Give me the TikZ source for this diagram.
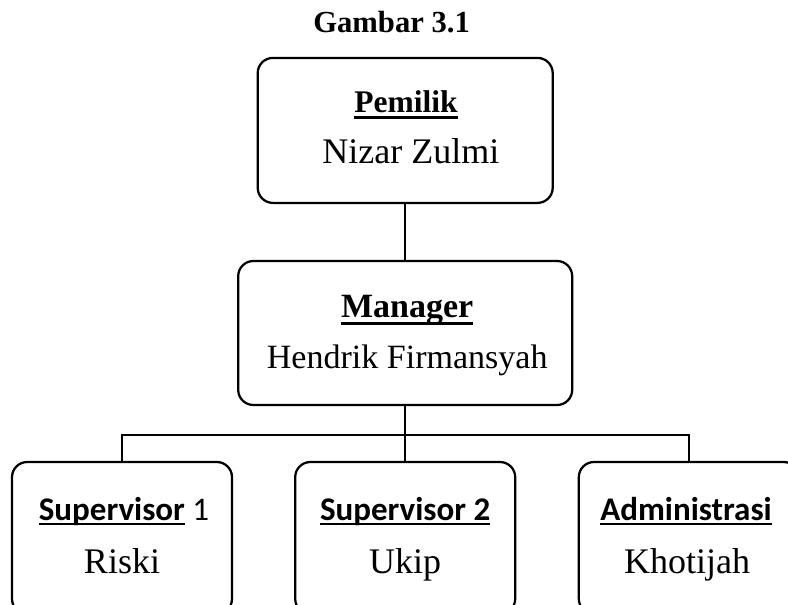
\documentclass[tikz,border=0pt]{standalone}
\usepackage{fontspec}
\setmainfont{Liberation Serif}
\newfontfamily\calibri{Carlito}
\usetikzlibrary{positioning}

% underline: #1 depth of the rule, #2 thickness, #3 text
\newcommand{\ulbox}[3]{\setbox0=\hbox{#3}\rlap{\rule[-#1]{\wd0}{#2}}\box0\relax}

\tikzset{
  orgbox/.style={draw, line width=1.6pt, rounded corners=0.38cm, inner sep=0pt},
  link/.style={line width=1.4pt},
  rolelbl/.style={anchor=base, inner sep=0pt},
}

\begin{document}
\begin{tikzpicture}
\useasboundingbox (0,0) rectangle (19.7,-15.1);

% Title
\node[rolelbl] (title) at (9.79,-0.825) {\fontsize{21.8}{26}\selectfont\bfseries Gambar 3.1};

% Boxes
\node[orgbox, minimum width=7.375cm, minimum height=3.625cm] (pemilik) at (10.13,-3.26) {};
\node[orgbox, minimum width=8.35cm, minimum height=3.6cm] (manager) at (10.13,-8.325) {};
\node[orgbox, minimum width=5.5cm, minimum height=3.8cm] (sup1) at (3.05,-13.45) {};
\node[orgbox, minimum width=5.5cm, minimum height=3.8cm] (sup2) at (10.13,-13.45) {};
\node[orgbox, minimum width=5.5cm, minimum height=3.8cm] (admin) at (17.22,-13.45) {};

% Texts
\node[rolelbl] (pemiliktitle) at (10.15,-2.81) {\fontsize{22.4}{26}\selectfont\ulbox{5pt}{2.2pt}{\textbf{Pemilik}}};
\node[rolelbl] (pemilikname) at (10.27,-4.075) {\fontsize{25.6}{30}\selectfont Nizar Zulmi};
\node[rolelbl] (managertitle) at (10.18,-7.925) {\fontsize{24.2}{28}\selectfont\ulbox{5.7pt}{2.1pt}{\textbf{Manager}}};
\node[rolelbl] (managername) at (10.18,-9.2) {\fontsize{24.2}{28}\selectfont Hendrik Firmansyah};
\node[rolelbl] (sup1title) at (3.1,-13.0) {\fontsize{23.5}{28}\selectfont\calibri\ulbox{3.8pt}{1.5pt}{\textbf{Supervisor}} 1};
\node[rolelbl] (sup1name) at (3.05,-14.325) {\fontsize{25.6}{30}\selectfont Riski};
\node[rolelbl] (sup2title) at (10.13,-13.0) {\fontsize{23.5}{28}\selectfont\calibri\ulbox{3.8pt}{1.5pt}{\textbf{Supervisor 2}}};
\node[rolelbl] (sup2name) at (10.13,-14.325) {\fontsize{25.6}{30}\selectfont Ukip};
\node[rolelbl] (admintitle) at (17.15,-13.0) {\fontsize{23.5}{28}\selectfont\calibri\ulbox{3.8pt}{1.5pt}{\textbf{Administrasi}}};
\node[rolelbl] (adminname) at (17.18,-14.325) {\fontsize{25.6}{30}\selectfont Khotijah};

% Lines
\coordinate (split) at (10.13,-10.875);
\draw[link] (pemilik.south) -- (manager.north);
\draw[link] (manager.south) -- (sup2.north);
\draw[link] (sup1.north) |- (split) -| (admin.north);
\end{tikzpicture}
\end{document}
